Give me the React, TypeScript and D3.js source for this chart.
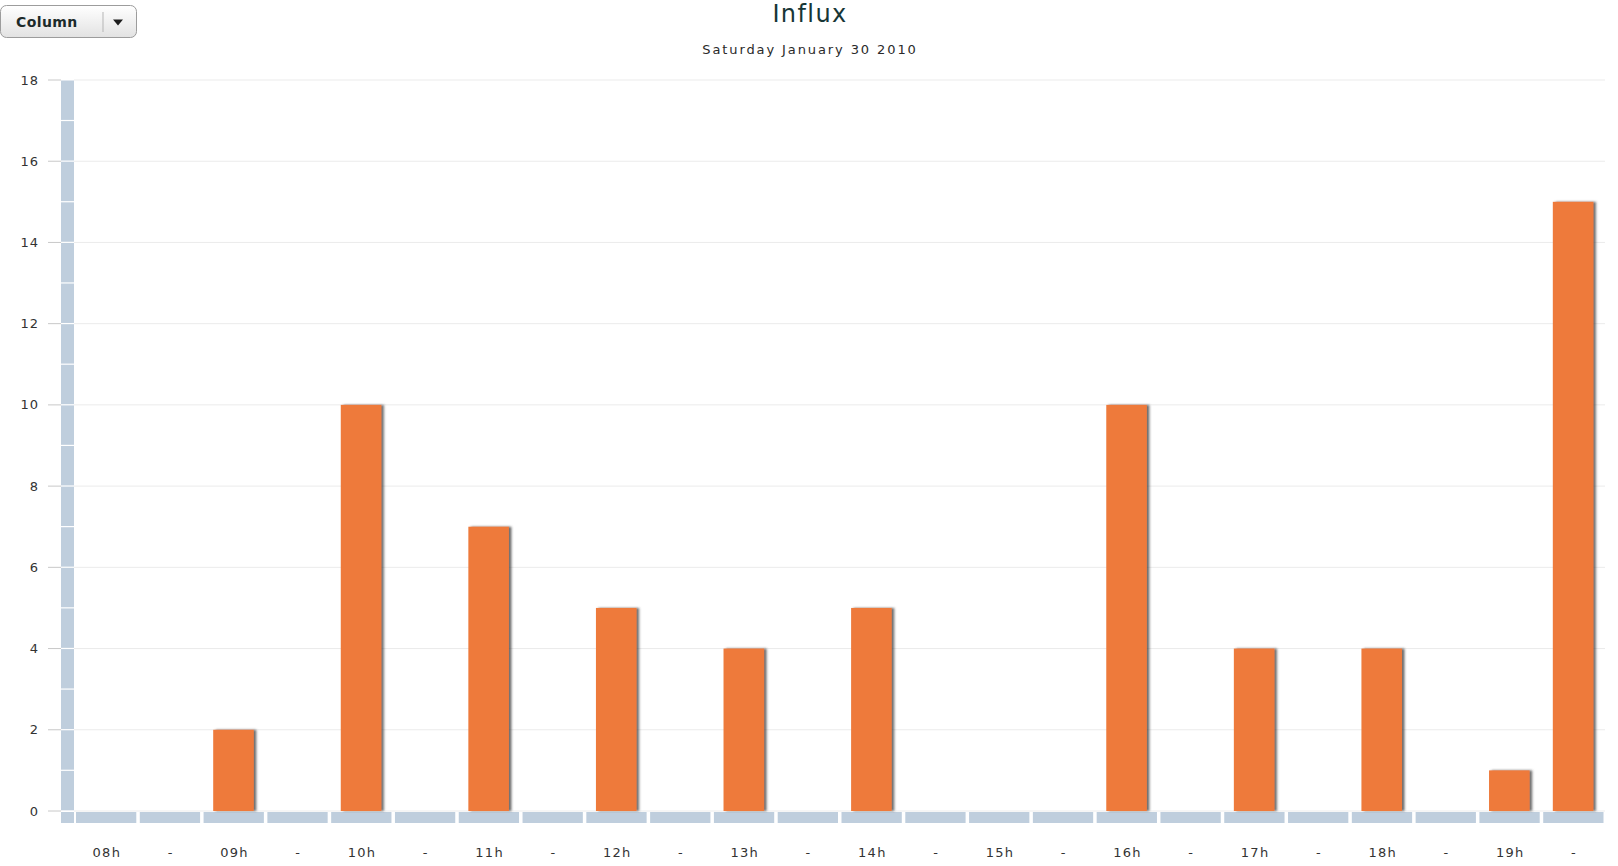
import React from 'react';
import * as d3 from 'd3';

const categories = ['08h', '-', '09h', '-', '10h', '-', '11h', '-', '12h', '-', '13h', '-', '14h', '-', '15h', '-', '16h', '-', '17h', '-', '18h', '-', '19h', '-'];
const values = [0, 0, 2, 0, 10, 0, 7, 0, 5, 0, 4, 0, 5, 0, 0, 0, 10, 0, 4, 0, 4, 0, 1, 15];
const yTicks = [0, 2, 4, 6, 8, 10, 12, 14, 16, 18];
const wallUnits = d3.range(0, 18);
const title = 'Influx';
const subtitle = 'Saturday January 30 2010';
const buttonLabel = 'Column';

const W = 1618;
const H = 866;
const FONT = '"DejaVu Sans", Verdana, sans-serif';

export default function App() {
  const x = d3.scaleBand<number>().domain(d3.range(categories.length)).range([74, 1605]).paddingInner(0);
  const y = d3.scaleLinear().domain([0, 18]).range([811, 80]);
  const bw = x.bandwidth();
  const barW = bw * 0.636;
  const wallX = 61;
  const wallW = 13;

  return (
    <svg width={W} height={H} style={{ position: 'absolute', left: 0, top: 0, background: '#fff' }}>
      <defs>
        <linearGradient id="btn" x1="0" y1="0" x2="0" y2="1">
          <stop offset="0" stopColor="#ffffff" />
          <stop offset="1" stopColor="#e2e2e2" />
        </linearGradient>
        <filter id="shadow" x="-20%" y="-5%" width="150%" height="110%">
          <feDropShadow dx="2.5" dy="0" stdDeviation="0.9" floodColor="#3a3a3a" floodOpacity="0.75" />
        </filter>
      </defs>

      {/* Button */}
      <g>
        <rect x={0.5} y={5.5} width={136} height={32} rx={6} ry={6} fill="url(#btn)" stroke="#9c9c9c" />
        <text x={16} y={27} fontFamily={FONT} fontSize={14} fontWeight="bold" fill="#1c2a2a" letterSpacing={0.4}>{buttonLabel}</text>
        <line x1={103} y1={12} x2={103} y2={32} stroke="#b5b5b5" />
        <path d="M113,19.5 L123,19.5 L118,25.5 Z" fill="#1c1c1c" />
      </g>

      {/* Title */}
      <text x={810} y={22} textAnchor="middle" fontFamily={FONT} fontSize={24} fill="#173636" letterSpacing={1.4}>{title}</text>
      <text x={810} y={54} textAnchor="middle" fontFamily={FONT} fontSize={13} fill="#2a2a2a" letterSpacing={1.9}>{subtitle}</text>

      {/* Gridlines and ticks */}
      {yTicks.map((t) => (
        <g key={t}>
          <line x1={wallX + wallW} x2={1605} y1={y(t)} y2={y(t)} stroke="#ebebeb" strokeWidth={1} />
          <line x1={48} x2={wallX} y1={y(t)} y2={y(t)} stroke="#c8c8c8" strokeWidth={1} />
          <text x={39} y={y(t)} dy="0.35em" textAnchor="end" fontFamily={FONT} fontSize={13} fill="#333" letterSpacing={1}>{t}</text>
        </g>
      ))}

      {/* Wall */}
      {wallUnits.map((u) => (
        <rect key={u} x={wallX} y={y(u + 1) + 0.5} width={wallW} height={y(u) - y(u + 1) - 1.2} fill="#bfcedd" />
      ))}
      <rect x={wallX} y={y(0) + 1} width={wallW} height={11} fill="#bfcedd" />

      {/* Floor */}
      {categories.map((c, i) => (
        <rect key={i} x={(x(i) as number) + 2} y={y(0) + 1} width={bw - 3.5} height={11} fill="#bfcedd" />
      ))}

      {/* Bars */}
      {values.map((v, i) =>
        v > 0 ? (
          <rect
            key={i}
            x={(x(i) as number) + (bw - barW) / 2}
            y={y(v)}
            width={barW}
            height={y(0) - y(v)}
            fill="#ee7a3b"
            filter="url(#shadow)"
          />
        ) : null
      )}

      {/* X labels */}
      {categories.map((c, i) => (
        <text key={i} x={(x(i) as number) + bw / 2 + 1} y={857} textAnchor="middle" fontFamily={FONT} fontSize={13} fill="#333" letterSpacing={1.3}>{c}</text>
      ))}
    </svg>
  );
}
